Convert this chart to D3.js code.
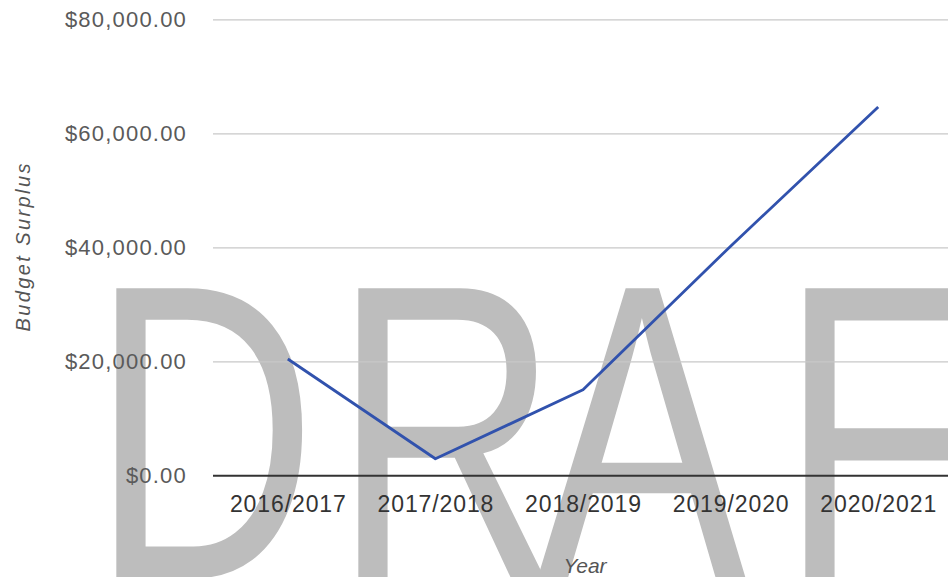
<!DOCTYPE html>
<html>
<head>
<meta charset="utf-8">
<script src="https://cdn.jsdelivr.net/npm/d3@7"></script>
<style>
  html, body { margin: 0; padding: 0; background: #fff; }
  svg { display: block; }
  text { font-family: "Liberation Sans", Arial, sans-serif; }
</style>
</head>
<body>
<svg id="chart" width="948" height="577"></svg>
<script>
// ---- data ----
const years = ["2016/2017", "2017/2018", "2018/2019", "2019/2020", "2020/2021"];
const surplus = [20400, 2900, 15000, 40200, 64600];
const yTicks = [0, 20000, 40000, 60000, 80000];
const yAxisTitle = "Budget Surplus";
const xAxisTitle = "Year";
const watermarkLetters = ["D", "R", "A", "F"];

// ---- layout ----
const svg = d3.select("#chart");

const x = d3.scalePoint().domain(years).range([214, 952]).padding(0.5);
const y = d3.scaleLinear().domain([0, 80000]).range([475.3, 19.3]);

// watermark (drawn underneath)
const wmX = [90.6, 332.6, 537, 779.6];
const wm = svg.append("g").attr("class", "watermark");
watermarkLetters.forEach((ch, i) => {
  wm.append("text")
    .attr("transform", `translate(${wmX[i]},578) scale(0.745,1)`)
    .attr("font-size", 421)
    .attr("fill", "#bdbdbd")
    .text(ch);
});

// gridlines
const grid = svg.append("g")
  .attr("transform", "translate(213,0)")
  .call(d3.axisLeft(y).tickValues(yTicks).tickSize(-(952 - 213)).tickFormat(""));
grid.select(".domain").remove();
grid.selectAll(".tick line")
  .attr("stroke", d => d === 0 ? "#333" : "#c8c8c8")
  .attr("stroke-width", d => d === 0 ? 2 : 1.3);

// y tick labels
const fmt = d3.format("$,.2f");
svg.append("g").selectAll("text")
  .data(yTicks)
  .join("text")
  .attr("x", 187)
  .attr("y", d => y(d))
  .attr("dy", "0.36em")
  .attr("text-anchor", "end")
  .attr("font-size", 22)
  .attr("letter-spacing", 1.2)
  .attr("fill", "#5a5a5a")
  .text(d => fmt(d));

// line
const line = d3.line().x((d, i) => x(years[i])).y(d => y(d));
svg.append("path")
  .datum(surplus)
  .attr("d", line)
  .attr("fill", "none")
  .attr("stroke", "#3152ad")
  .attr("stroke-width", 2.8)
  .attr("stroke-linejoin", "round");

// x axis labels
const xAxis = svg.append("g")
  .attr("transform", "translate(0,475)")
  .call(d3.axisBottom(x).tickSize(0).tickPadding(0));
xAxis.select(".domain").remove();
xAxis.selectAll("text")
  .attr("y", 37)
  .attr("dy", 0)
  .attr("font-size", 23)
  .attr("letter-spacing", 0.9)
  .attr("font-family", "Liberation Sans, Arial, sans-serif")
  .attr("fill", "#333");

// axis titles
svg.append("text")
  .attr("transform", "translate(30,247.5) rotate(-90)")
  .attr("text-anchor", "middle")
  .attr("font-size", 20)
  .attr("font-style", "italic")
  .attr("textLength", 168)
  .attr("lengthAdjust", "spacing")
  .attr("fill", "#555")
  .text(yAxisTitle);

svg.append("text")
  .attr("x", 585)
  .attr("y", 573)
  .attr("text-anchor", "middle")
  .attr("font-size", 21)
  .attr("font-style", "italic")
  .attr("fill", "#555")
  .text(xAxisTitle);
</script>
</body>
</html>
